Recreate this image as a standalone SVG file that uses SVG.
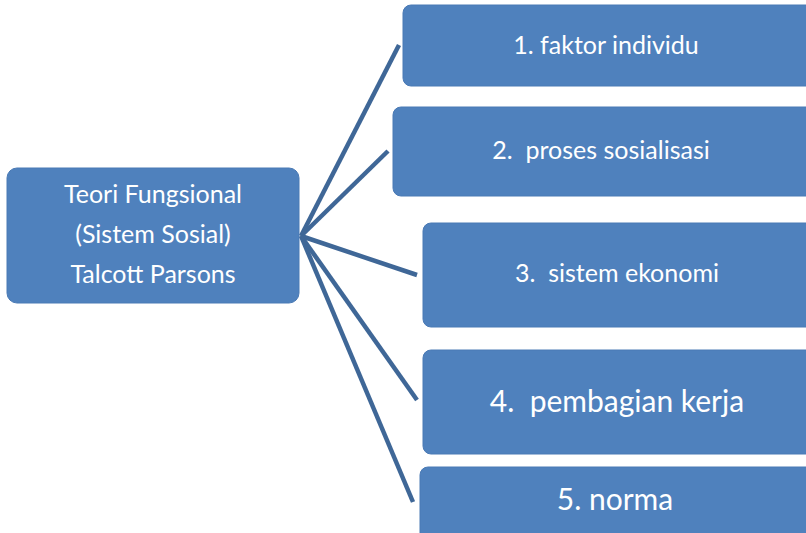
<svg xmlns="http://www.w3.org/2000/svg" width="806" height="533" viewBox="0 0 806 533">
<style>
.box{fill:#4f81bd;stroke:#4a7ab5;stroke-width:1}
.t{fill:#ffffff;font-family:Lato,"Open Sans","Liberation Sans",sans-serif;text-anchor:middle}
.s{font-size:25px}
.l{font-size:30px}
.c{stroke:#3f6797;stroke-width:4.5;fill:none;stroke-linecap:butt}
</style>
<rect width="806" height="533" fill="#ffffff"/>
<g id="connectors">
<line class="c" x1="301" y1="236" x2="399" y2="45"/>
<line class="c" x1="301" y1="236" x2="388" y2="151"/>
<line class="c" x1="301" y1="236" x2="417" y2="275"/>
<line class="c" x1="301" y1="236" x2="417" y2="400"/>
<line class="c" x1="301" y1="236" x2="413" y2="502"/>
</g>
<g id="root">
<rect class="box" x="7" y="168" width="292" height="135" rx="10"/>
<text class="t s" x="153" y="203">Teori Fungsional</text>
<text class="t s" x="153" y="243">(Sistem Sosial)</text>
<text class="t s" x="153" y="283">Talcott Parsons</text>
</g>
<g id="n1">
<rect class="box" x="403" y="5" width="420" height="81" rx="8"/>
<text class="t s" x="606" y="54">1. faktor individu</text>
</g>
<g id="n2">
<rect class="box" x="393" y="107" width="430" height="89" rx="8"/>
<text class="t s" x="601" y="159" xml:space="preserve">2.  proses sosialisasi</text>
</g>
<g id="n3">
<rect class="box" x="423" y="223" width="400" height="104" rx="8"/>
<text class="t s" x="617" y="282" xml:space="preserve">3.  sistem ekonomi</text>
</g>
<g id="n4">
<rect class="box" x="423" y="350" width="400" height="104" rx="8"/>
<text class="t l" x="617" y="412" xml:space="preserve">4.  pembagian kerja</text>
</g>
<g id="n5">
<rect class="box" x="420" y="467" width="400" height="90" rx="8"/>
<text class="t l" x="615" y="510">5. norma</text>
</g>
</svg>
